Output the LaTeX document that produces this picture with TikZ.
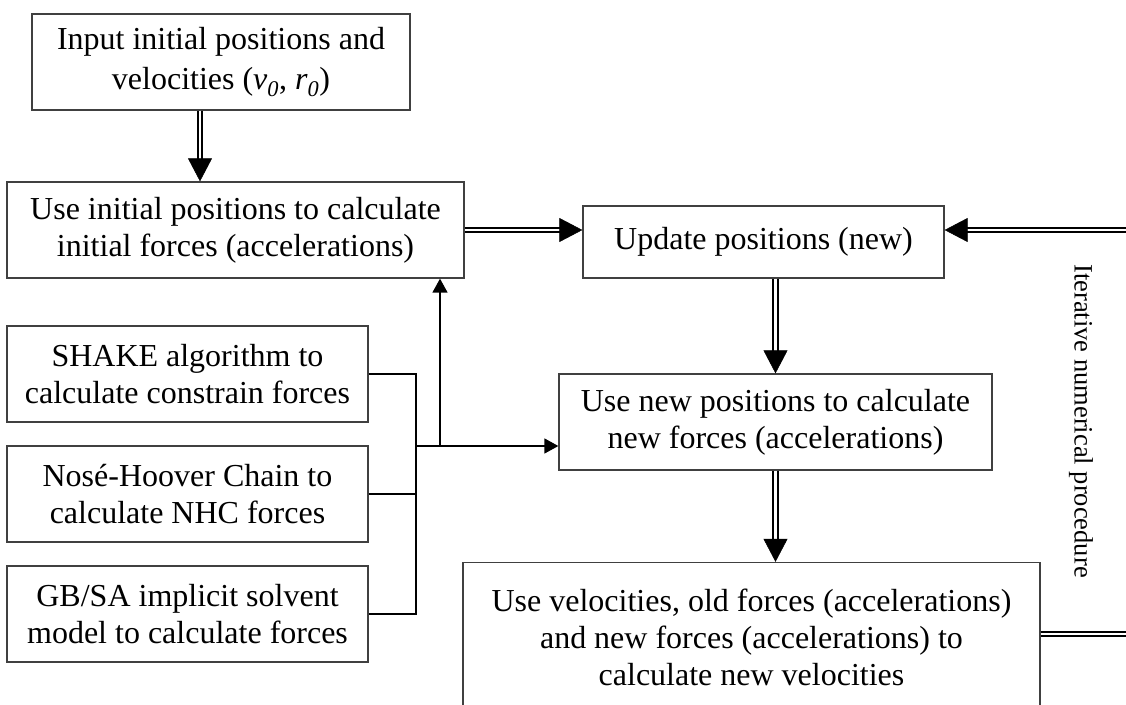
\documentclass[tikz,border=0pt]{standalone}
\usepackage{fontspec}
\setmainfont{Liberation Serif}
\usetikzlibrary{arrows.meta,calc}
\tikzset{
  box/.style={draw=black!75, line width=1.3pt, inner sep=0pt, align=center,
    font=\fontsize{32}{37}\selectfont},
  dblline/.style={draw=black, double=white, double distance=2.6pt, line width=2pt},
  dbltip/.style={draw=white, line width=0.5pt, -{Triangle[length=23pt,width=24pt,black]}},
  thinarrow/.style={draw=black, line width=1.5pt, -{Triangle[length=14pt,width=15pt]}},
  thinline/.style={draw=black, line width=1.5pt},
  sidelabel/.style={font=\fontsize{26.5}{30}\selectfont, rotate=-90, inner sep=0pt}
}
\newcommand{\dblarrow}[1]{\draw[dblline, shorten >=20pt] #1; \draw[dbltip] #1;}
\begin{document}
\begin{tikzpicture}[x=1pt,y=-1pt]
\useasboundingbox (0,0) rectangle (1126,704);
\clip (0,0) rectangle (1126,704);
\fill[white] (0,0) rectangle (1126,704);

\node[box, minimum width=378, minimum height=96] (input) at (221,62)
  {Input initial positions and\\[3pt]velocities (\textit{v}\textsubscript{\textit{0}}, \textit{r}\textsubscript{\textit{0}})};
\node[box, minimum width=457, minimum height=96] (init) at (235.5,230)
  {Use initial positions to calculate\\initial forces (accelerations)};
\node[box, minimum width=361, minimum height=72] (update) at (763.5,242)
  {Update positions (new)};
\node[box, minimum width=433, minimum height=96] (newf) at (775.5,422)
  {Use new positions to calculate\\new forces (accelerations)};
\node[box, minimum width=577, minimum height=149] (vel) at (751.5,637)
  {Use velocities, old forces (accelerations)\\and new forces (accelerations) to\\calculate new velocities};
\node[box, minimum width=361, minimum height=96] (shake) at (187.5,374)
  {SHAKE algorithm to\\calculate constrain forces};
\node[box, minimum width=361, minimum height=96] (nhc) at (187.5,494)
  {Nosé-Hoover Chain to\\calculate NHC forces};
\node[box, minimum width=361, minimum height=96] (gbsa) at (187.5,614)
  {GB/SA implicit solvent\\model to calculate forces};

\node[sidelabel] (iter) at (1081,421) {Iterative numerical procedure};

% double arrows
\coordinate (a1) at ($(input.south)+(-21,0)$);
\dblarrow{(a1) -- (a1 |- init.north)}
\dblarrow{(init.east) -- (init.east -| update.west)}
\dblarrow{(newf.north |- update.south) -- (newf.north)}
\dblarrow{(newf.south) -- (newf.south |- vel.north)}
\coordinate (vr) at ($(vel.east)+(0,-3)$);
\coordinate (loopx) at (1150,0);
\dblarrow{(vr) -- (vr -| loopx) -- (loopx |- init.east) -- (init.east -| update.east)}

% thin connectors
\coordinate (bus) at (416,446);
\coordinate (up) at (440,446);
\draw[thinline] (shake.east) -| (bus) |- (gbsa.east);
\draw[thinline] (nhc.east) -- (nhc.east -| bus);
\draw[thinarrow] (bus) -- (bus -| newf.west);
\draw[thinarrow] (up) -- (up |- init.south);
\end{tikzpicture}
\end{document}
